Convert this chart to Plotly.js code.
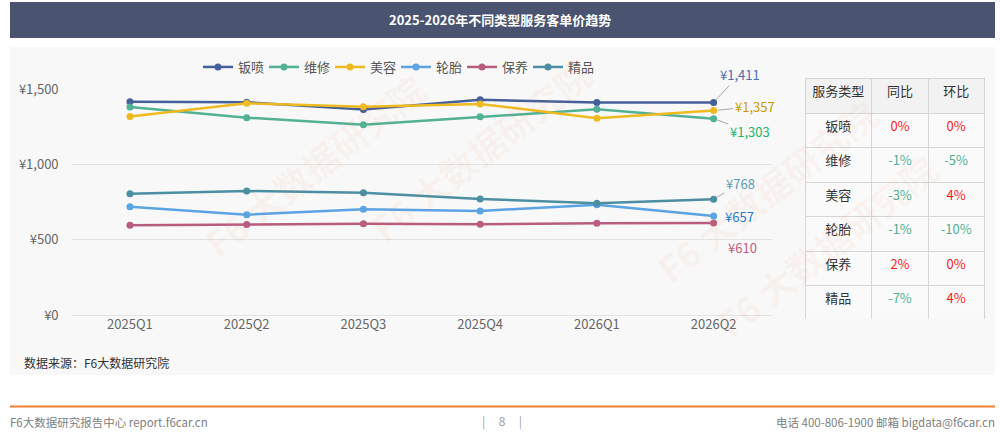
<!DOCTYPE html>
<html>
<head>
<meta charset="utf-8">
<script src="https://cdn.plot.ly/plotly-3.0.1.min.js"></script>
<style>
  html, body { margin: 0; padding: 0; background: #fff; }
  #chart { width: 1000px; height: 439px; }
</style>
</head>
<body>
<div id="chart"></div>
<script>
// quarters on the x axis
const quarters = ['2025Q1', '2025Q2', '2025Q3', '2025Q4', '2026Q1', '2026Q2'];

// average price per order (last point = labelled value)
const banpen = [1416, 1412, 1364, 1428, 1410, 1411];   // 钣喷
const weixiu = [1381, 1310, 1263, 1315, 1365, 1303];   // 维修
const meirong = [1317, 1405, 1383, 1401, 1306, 1357];  // 美容
const luntai = [719, 666, 702, 691, 731, 657];         // 轮胎
const baoyang = [596, 600, 606, 602, 609, 610];        // 保养
const jingpin = [805, 823, 812, 770, 741, 768];        // 精品

// side table
const tableTypes = ['钣喷', '维修', '美容', '轮胎', '保养', '精品'];
const yoy = ['0%', '-1%', '-3%', '-1%', '2%', '-7%'];
const qoq = ['0%', '-5%', '4%', '-10%', '0%', '4%'];

const FONT = '"Noto Sans CJK SC", "Noto Sans", sans-serif';
const W = 1000, H = 439;

// px helpers for paper coordinates
function px(x) { return x / W; }
function py(y) { return (H - y) / H; }

const series = [
  {name: '钣喷', y: banpen, color: '#44609B', label: '#4E6FAE', ax: 26, ay: -28, arrow: true},
  {name: '维修', y: weixiu, color: '#52B094', label: '#1DB36A', ax: 36, ay: 13, arrow: true},
  {name: '美容', y: meirong, color: '#EFBA1F', label: '#C99B05', ax: 41, ay: -4, arrow: true},
  {name: '轮胎', y: luntai, color: '#5BA3E3', label: '#1F78CF', ax: 26, ay: 0, arrow: false},
  {name: '保养', y: baoyang, color: '#B85C80', label: '#BE5D83', ax: 29, ay: 24, arrow: true},
  {name: '精品', y: jingpin, color: '#4C8EA2', label: '#5B9BB6', ax: 27, ay: -16, arrow: true}
];

let data = [];
for (let s of series) {
  data.push({
    x: quarters,
    y: s.y,
    type: 'scatter',
    mode: 'lines+markers',
    name: s.name,
    line: {color: s.color, width: 2.5},
    marker: {color: s.color, size: 7},
    hoverinfo: 'x+y+name'
  });
}

// colour of change values: red for >= 0, green for negative
function changeColor(v) {
  return v.indexOf('-') === 0 ? '#52B094' : '#FF1A1A';
}

data.push({
  type: 'table',
  domain: {x: [px(805), px(985)], y: [py(320), py(78)]},
  columnwidth: [67, 57, 56],
  header: {
    values: ['服务类型', '同比', '环比'],
    align: 'center',
    height: 35,
    fill: {color: '#F2F2F2'},
    line: {color: '#D6D6D6', width: 1},
    font: {family: FONT, size: 13, color: '#333'}
  },
  cells: {
    values: [tableTypes, yoy, qoq],
    align: 'center',
    height: 34.5,
    fill: {color: '#FAFAFA'},
    line: {color: '#D6D6D6', width: 1},
    font: {
      family: FONT,
      size: 13,
      color: [tableTypes.map(() => '#333'), yoy.map(changeColor), qoq.map(changeColor)]
    }
  }
});

let annotations = [];

// end-of-line value labels
for (let s of series) {
  let last = s.y[s.y.length - 1];
  annotations.push({
    x: quarters.length - 1,
    y: last,
    xref: 'x',
    yref: 'y',
    text: '¥' + last.toLocaleString('en-US'),
    showarrow: true,
    arrowhead: 0,
    arrowwidth: 1,
    arrowcolor: s.arrow ? '#A8A8A8' : 'rgba(0,0,0,0)',
    standoff: 4,
    ax: s.ax,
    ay: s.ay,
    font: {family: FONT, size: 13, color: s.label}
  });
}

// title bar text
annotations.push({
  x: 0.5, y: py(20), xref: 'paper', yref: 'paper', yanchor: 'middle',
  text: '<b>2025-2026年不同类型服务客单价趋势</b>',
  showarrow: false,
  font: {family: FONT, size: 13, color: '#fff'}
});

// source note
annotations.push({
  x: px(22), y: py(362), xref: 'paper', yref: 'paper',
  xanchor: 'left', yanchor: 'middle',
  text: '数据来源：F6大数据研究院',
  showarrow: false,
  font: {family: FONT, size: 12, color: '#333'}
});

// footer
annotations.push({
  x: px(8), y: py(422), xref: 'paper', yref: 'paper', xanchor: 'left', yanchor: 'middle',
  text: 'F6大数据研究报告中心 report.f6car.cn', showarrow: false,
  font: {family: FONT, size: 11.5, color: '#808080'}
});
annotations.push({
  x: 0.502, y: py(421), xref: 'paper', yref: 'paper', yanchor: 'middle',
  text: '|&nbsp;&nbsp;&nbsp;&nbsp;&nbsp;8&nbsp;&nbsp;&nbsp;&nbsp;&nbsp;|', showarrow: false,
  font: {family: FONT, size: 12, color: '#A0A0A0'}
});
annotations.push({
  x: px(997), y: py(422), xref: 'paper', yref: 'paper', xanchor: 'right', yanchor: 'middle',
  text: '电话 400-806-1900 邮箱 bigdata@f6car.cn', showarrow: false,
  font: {family: FONT, size: 11.5, color: '#808080'}
});

// faint watermark
const marks = [[190, 60], [480, 150], [890, 190], [950, 350]];
for (let m of marks) {
  annotations.push({
    x: px(m[0]), y: py(m[1]), xref: 'paper', yref: 'paper',
    text: '<b>F6 大数据研究院</b>', showarrow: false, textangle: -38,
    font: {family: FONT, size: 36, color: 'rgba(240,130,70,0.06)'}
  });
}

const layout = {
  width: W,
  height: H,
  margin: {l: 0, r: 0, t: 0, b: 0},
  paper_bgcolor: '#fff',
  plot_bgcolor: 'rgba(0,0,0,0)',
  font: {family: FONT, color: '#666'},
  showlegend: true,
  legend: {
    orientation: 'h',
    x: px(198), y: py(67),
    xanchor: 'left', yanchor: 'middle',
    entrywidth: 21, entrywidthmode: 'pixels',
    bgcolor: 'rgba(0,0,0,0)',
    font: {family: FONT, size: 13, color: '#555'}
  },
  xaxis: {
    domain: [px(71.6), px(772)],
    type: 'category',
    range: [-0.5, 5.5],
    showgrid: false,
    showline: false,
    zeroline: false,
    ticks: '',
    tickfont: {family: FONT, size: 13, color: '#666'},
    fixedrange: true
  },
  yaxis: {
    domain: [py(315), py(89)],
    range: [0, 1500],
    dtick: 500,
    tickprefix: '¥',
    tickformat: ',d',
    gridcolor: '#E3E3E3',
    zeroline: true,
    zerolinecolor: '#E3E3E3',
    zerolinewidth: 1,
    showline: false,
    ticks: '',
    ticklabelstandoff: 12,
    tickfont: {family: FONT, size: 13, color: '#666'},
    fixedrange: true
  },
  shapes: [
    // title bar
    {type: 'rect', xref: 'paper', yref: 'paper', layer: 'below',
     x0: px(10), x1: px(995), y0: py(38), y1: py(2),
     fillcolor: '#4A5470', line: {width: 0}},
    // chart panel
    {type: 'rect', xref: 'paper', yref: 'paper', layer: 'below',
     x0: px(10), x1: px(995), y0: py(375), y1: py(47),
     fillcolor: '#F8F8F8', line: {width: 0}},
    // orange footer rule
    {type: 'line', xref: 'paper', yref: 'paper',
     x0: px(10), x1: px(995), y0: py(406.5), y1: py(406.5),
     line: {color: '#F5802E', width: 2}}
  ],
  annotations: annotations
};

Plotly.newPlot('chart', data, layout, {displayModeBar: false, staticPlot: true});
</script>
</body>
</html>
